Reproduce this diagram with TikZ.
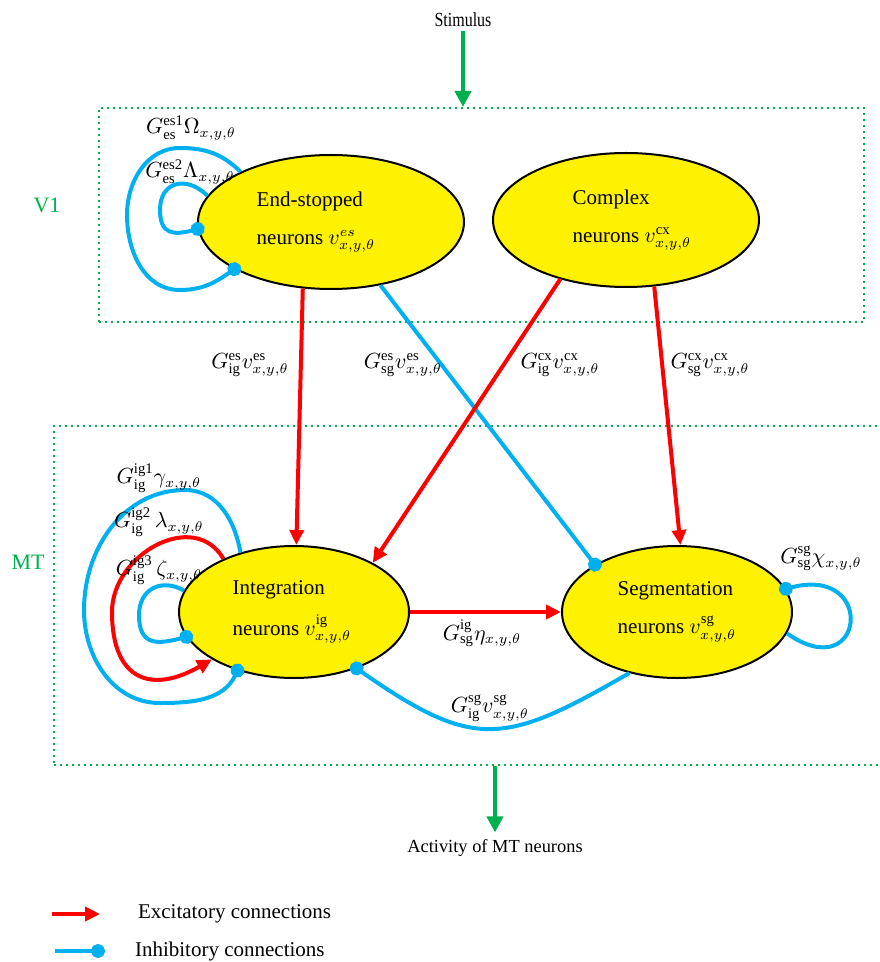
\documentclass[tikz,border=0pt]{standalone}
\usepackage{fontspec}
\setmainfont{Liberation Serif}
\usetikzlibrary{shapes.geometric,arrows.meta}
\definecolor{inhibblue}{RGB}{0,176,240}
\definecolor{areagreen}{RGB}{0,176,80}

\begin{document}
\begin{tikzpicture}[x=0.5pt,y=0.5pt,
    every node/.style={font=\fontsize{10.5}{12}\selectfont},
    cell/.style={ellipse,draw=black,line width=1pt,fill=yellow,inner sep=0pt},
    bigcell/.style={cell,minimum width=133pt,minimum height=67pt},
    smallcell/.style={cell,minimum width=115pt,minimum height=66pt},
    area/.style={draw=areagreen,line width=1pt,dotted,inner sep=0pt},
    areaname/.style={text=areagreen,font=\fontsize{11}{13}\selectfont},
    excit/.style={red,line width=2pt,-{Triangle[length=7.5pt,width=7pt]}},
    inhib/.style={inhibblue,line width=2pt,-{Circle[length=7pt]},shorten >=-3.5pt},
    feed/.style={areagreen,line width=2pt,-{Triangle[length=8pt,width=8pt]}},
    wt/.style={inner sep=0pt}]
  \useasboundingbox (0,0) rectangle (879,-962);

  % areas
  \node[area,minimum width=382.5pt,minimum height=107pt] (v1) at (481.5,-215) {};
  \node[area,minimum width=418pt,minimum height=169.5pt] (mt) at (472,-595.5) {};
  \node[areaname] (v1name) at (47,-205) {V1};
  \node[areaname] (mtname) at (28,-562) {MT};

  % input and output
  \node[font=\fontsize{10}{12}\selectfont,inner sep=2pt] (stim) at (463,-20) {\scalebox{0.8}[1]{Stimulus}};
  \node[font=\fontsize{9.2}{11}\selectfont] (act) at (495,-848) {Activity of MT neurons};
  \draw[feed] (stim.south) -- (stim |- v1.north);
  \draw[feed] (mt.south -| act) -- (act.north);

  % neuron populations
  \node[bigcell,label={[name=estext,align=left,xshift=-7.5pt]center:{End-stopped\\[7pt]neurons $v^{es}_{x,y,\theta}$}}] (es) at (331,-222) {};
  \node[bigcell,label={[name=cxtext,align=left,xshift=3pt]center:{Complex\\[7pt]neurons $v^{\mathrm{cx}}_{x,y,\theta}$}}] (cx) at (626,-220) {};
  \node[smallcell,label={[name=igtext,align=left,xshift=-1pt]center:{Integration\\[7pt]neurons $v^{\mathrm{ig}}_{x,y,\theta}$}}] (ig) at (294,-612) {};
  \node[smallcell,label={[name=sgtext,align=left]center:{Segmentation\\[7pt]neurons $v^{\mathrm{sg}}_{x,y,\theta}$}}] (sg) at (677,-612) {};

  % feedforward V1 -> MT
  \draw[excit] (es.-113) -- (ig.88);
  \draw[inhib] (es.-52) -- (sg.150);
  \draw[excit] (cx.-138) -- (ig.32);
  \draw[excit] (cx.-67) -- (sg.87);
  \node[wt] (lesig) at (250,-365) {$G^{\mathrm{es}}_{\mathrm{ig}}v^{\mathrm{es}}_{x,y,\theta}$};
  \node[wt] (lessg) at (403,-365) {$G^{\mathrm{es}}_{\mathrm{sg}}v^{\mathrm{es}}_{x,y,\theta}$};
  \node[wt] (lcxig) at (560,-365) {$G^{\mathrm{cx}}_{\mathrm{ig}}v^{\mathrm{cx}}_{x,y,\theta}$};
  \node[wt] (lcxsg) at (710,-365) {$G^{\mathrm{cx}}_{\mathrm{sg}}v^{\mathrm{cx}}_{x,y,\theta}$};

  % end-stopped self connections
  \draw[inhib] (es.151) to[out=135,in=0] (180,-148) to[out=180,in=90] (127,-215)
    to[out=-90,in=180] (180,-290) to[out=0,in=-145] (es.-154);
  \draw[inhib] (es.168) to[out=135,in=90,looseness=1.5] (160,-210)
    to[out=-90,in=-165,looseness=1.5] (es.-177);
  \node[wt] (lOmega) at (191,-128) {$G^{\mathrm{es1}}_{\mathrm{es}}\Omega_{x,y,\theta}$};
  \node[wt] (lLambda) at (190,-172) {$G^{\mathrm{es2}}_{\mathrm{es}}\Lambda_{x,y,\theta}$};

  % integration self connections
  \draw[inhib] (ig.132) to[out=100,in=0] (185,-490) to[out=180,in=90] (84,-610)
    to[out=-90,in=180] (160,-703) to[out=0,in=-115] (ig.-134);
  \draw[excit] (ig.143) to[out=120,in=90,looseness=1.2] (112,-612)
    to[out=-90,in=-150,looseness=1.6] (ig.-150);
  \draw[inhib] (ig.169) to[out=150,in=90,looseness=1.3] (139,-615)
    to[out=-90,in=-165,looseness=1.5] (ig.-167);
  \node[wt] (lgamma) at (159,-478) {$G^{\mathrm{ig1}}_{\mathrm{ig}}\gamma_{x,y,\theta}$};
  \node[wt] (llambda) at (159,-522) {$G^{\mathrm{ig2}}_{\mathrm{ig}}\,\lambda_{x,y,\theta}$};
  \node[wt] (lzeta) at (159,-570) {$G^{\mathrm{ig3}}_{\mathrm{ig}}\,\zeta_{x,y,\theta}$};

  % integration <-> segmentation
  \draw[excit] (ig.east) -- (sg.west);
  \draw[inhib] (sg.-128) to[out=-150,in=-35,looseness=1.35] (ig.-42);
  \draw[inhib] (sg.-11) .. controls +(-35:95) and +(15:95) .. (sg.12);
  \node[wt] (leta) at (482,-633) {$G^{\mathrm{ig}}_{\mathrm{sg}}\eta_{x,y,\theta}$};
  \node[wt] (lsgig) at (490,-708) {$G^{\mathrm{sg}}_{\mathrm{ig}}v^{\mathrm{sg}}_{x,y,\theta}$};
  \node[wt] (lchi) at (821,-558) {$G^{\mathrm{sg}}_{\mathrm{sg}}\chi_{x,y,\theta}$};

  % legend
  \coordinate (exA) at (52,-914);
  \coordinate (exB) at (100,-914);
  \coordinate (inA) at (55,-951);
  \coordinate (inB) at (98,-951);
  \draw[excit] (exA) -- (exB);
  \draw[inhib] (inA) -- (inB);
  \node[anchor=west] (extext) at (131,-914) {Excitatory connections};
  \node[anchor=west] (intext) at (128,-951) {Inhibitory connections};
\end{tikzpicture}
\end{document}
